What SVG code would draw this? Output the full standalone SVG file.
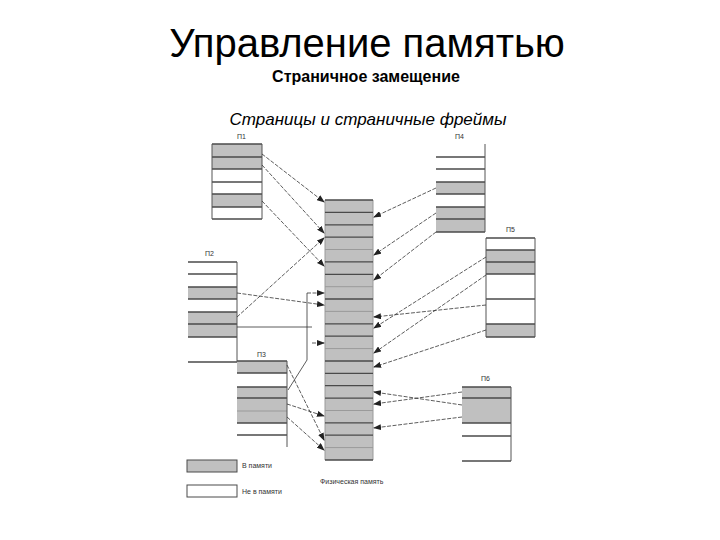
<svg xmlns="http://www.w3.org/2000/svg" width="720" height="540" viewBox="0 0 720 540">
<style>
text{font-family:"Liberation Sans",Arial,sans-serif;fill:#000}
.t1{font-size:40px}
.t2{font-size:16px;font-weight:bold}
.t3{font-size:17px;font-style:italic}
.lb{font-size:7px;fill:#333}
.g{fill:#c0c0c0}
.hl{stroke:#4a4a4a;stroke-width:1.3}
.ll{stroke:#9a9a9a;stroke-width:1}
.vb{stroke:#555;stroke-width:1}
.ar{stroke:#333;stroke-width:0.8;stroke-dasharray:4 1.5;fill:none;marker-end:url(#ah)}
.ln{stroke:#333;stroke-width:0.8;fill:none}
</style>
<defs>
<marker id="ah" markerWidth="8" markerHeight="6" refX="7" refY="3" orient="auto" markerUnits="userSpaceOnUse">
<path d="M0,0 L8,3 L0,6 Z" fill="#222"/>
</marker>
</defs>
<rect width="720" height="540" fill="#fff"/>
<text class="t1" x="367" y="57" text-anchor="middle">Управление памятью</text>
<text class="t2" x="366" y="82" text-anchor="middle">Страничное замещение</text>
<text class="t3" x="368" y="125" text-anchor="middle">Страницы и страничные фреймы</text>

<g id="phys">
<rect class="g" x="325" y="200" width="48" height="260"/>
<line class="ll" x1="325" y1="200" x2="325" y2="460"/>
<line class="ll" x1="373" y1="200" x2="373" y2="460"/>
<g class="hl">
<line x1="325" y1="200" x2="373" y2="200"/><line x1="325" y1="212.4" x2="373" y2="212.4"/>
<line x1="325" y1="224.8" x2="373" y2="224.8"/><line x1="325" y1="237.1" x2="373" y2="237.1"/>
<line x1="325" y1="261.9" x2="373" y2="261.9"/><line x1="325" y1="274.3" x2="373" y2="274.3"/>
<line x1="325" y1="299" x2="373" y2="299"/><line x1="325" y1="323.8" x2="373" y2="323.8"/>
<line x1="325" y1="336.2" x2="373" y2="336.2"/><line x1="325" y1="361" x2="373" y2="361"/>
<line x1="325" y1="373.3" x2="373" y2="373.3"/><line x1="325" y1="385.7" x2="373" y2="385.7"/>
<line x1="325" y1="398.1" x2="373" y2="398.1"/><line x1="325" y1="422.9" x2="373" y2="422.9"/>
<line x1="325" y1="435.2" x2="373" y2="435.2"/><line x1="325" y1="460" x2="373" y2="460"/>
</g>
<g class="ll">
<line x1="325" y1="249.5" x2="373" y2="249.5"/><line x1="325" y1="286.7" x2="373" y2="286.7"/>
<line x1="325" y1="311.4" x2="373" y2="311.4"/><line x1="325" y1="348.6" x2="373" y2="348.6"/>
<line x1="325" y1="410.5" x2="373" y2="410.5"/><line x1="325" y1="447.6" x2="373" y2="447.6"/>
</g>
<text class="lb" x="320" y="484">Физическая память</text>
</g>

<g id="p1">
<text class="lb" x="237" y="139">П1</text>
<rect class="g" x="212" y="144" width="50" height="25"/>
<rect class="g" x="212" y="194" width="50" height="13"/>
<g class="hl">
<line x1="212" y1="144" x2="262" y2="144"/><line x1="212" y1="157" x2="262" y2="157"/>
<line x1="212" y1="169" x2="262" y2="169"/><line x1="212" y1="182" x2="262" y2="182"/>
<line x1="212" y1="194" x2="262" y2="194"/><line x1="212" y1="207" x2="262" y2="207"/>
<line x1="212" y1="219" x2="262" y2="219"/>
</g>
<line class="vb" x1="212" y1="144" x2="212" y2="219"/>
<line class="vb" x1="262" y1="144" x2="262" y2="219"/>
</g>

<g id="p4">
<text class="lb" x="455" y="139">П4</text>
<rect class="g" x="436" y="182" width="49" height="12"/>
<rect class="g" x="436" y="207" width="49" height="25"/>
<g class="hl">
<line x1="436" y1="157" x2="485" y2="157"/><line x1="436" y1="169" x2="485" y2="169"/>
<line x1="436" y1="182" x2="485" y2="182"/><line x1="436" y1="194" x2="485" y2="194"/>
<line x1="436" y1="207" x2="485" y2="207"/><line x1="436" y1="219" x2="485" y2="219"/>
<line x1="436" y1="232" x2="485" y2="232"/>
</g>
<line class="vb" x1="485" y1="144" x2="485" y2="232"/>
</g>

<g id="p2">
<text class="lb" x="205" y="256">П2</text>
<rect class="g" x="188" y="287" width="49" height="12"/>
<rect class="g" x="188" y="312" width="49" height="25"/>
<g class="hl">
<line x1="188" y1="262" x2="237" y2="262"/><line x1="188" y1="274" x2="237" y2="274"/>
<line x1="188" y1="287" x2="237" y2="287"/><line x1="188" y1="299" x2="237" y2="299"/>
<line x1="188" y1="312" x2="237" y2="312"/><line x1="188" y1="324" x2="237" y2="324"/>
<line x1="188" y1="337" x2="237" y2="337"/><line x1="188" y1="362" x2="237" y2="362"/>
</g>
<line class="vb" x1="237" y1="262" x2="237" y2="362"/>
</g>

<g id="p3">
<text class="lb" x="257" y="357">П3</text>
<rect class="g" x="237" y="361" width="50" height="12"/>
<rect class="g" x="237" y="387" width="50" height="36"/>
<g class="hl">
<line x1="237" y1="361" x2="287" y2="361"/><line x1="237" y1="373" x2="287" y2="373"/>
<line x1="237" y1="387" x2="287" y2="387"/><line x1="237" y1="398" x2="287" y2="398"/>
<line x1="237" y1="423" x2="287" y2="423"/><line x1="237" y1="435" x2="287" y2="435"/>
</g>
<line class="ll" x1="237" y1="411" x2="287" y2="411"/>
<line class="vb" x1="287" y1="361" x2="287" y2="447"/>
</g>

<g id="p5">
<text class="lb" x="506" y="232">П5</text>
<rect class="g" x="486" y="250" width="49" height="24"/>
<rect class="g" x="486" y="324" width="49" height="13"/>
<g class="hl">
<line x1="486" y1="238" x2="535" y2="238"/><line x1="486" y1="250" x2="535" y2="250"/>
<line x1="486" y1="262" x2="535" y2="262"/><line x1="486" y1="274" x2="535" y2="274"/>
<line x1="486" y1="299" x2="535" y2="299"/><line x1="486" y1="324" x2="535" y2="324"/>
<line x1="486" y1="337" x2="535" y2="337"/>
</g>
<line class="vb" x1="486" y1="238" x2="486" y2="337"/>
<line class="vb" x1="535" y1="238" x2="535" y2="337"/>
</g>

<g id="p6">
<text class="lb" x="481" y="381">П6</text>
<rect class="g" x="462" y="387" width="49" height="36"/>
<g class="hl">
<line x1="462" y1="387" x2="511" y2="387"/><line x1="462" y1="398" x2="511" y2="398"/>
<line x1="462" y1="423" x2="511" y2="423"/><line x1="462" y1="436" x2="511" y2="436"/>
<line x1="462" y1="461" x2="511" y2="461"/>
</g>
<line class="vb" x1="511" y1="387" x2="511" y2="461"/>
</g>

<g id="legend">
<rect class="g" x="187" y="460" width="50" height="12" stroke="#4a4a4a" stroke-width="1"/>
<text class="lb" x="242" y="468">В памяти</text>
<rect x="187" y="485" width="50" height="12" fill="#fff" stroke="#4a4a4a" stroke-width="1"/>
<text class="lb" x="242" y="494">Не в памяти</text>
</g>

<g id="connectors">
<path class="ar" d="M262,154 L324,202"/>
<path class="ar" d="M262,165 L324,233"/>
<path class="ar" d="M262,201 L324,266"/>
<path class="ar" d="M237,317 L324,238"/>
<path class="ar" d="M237,293 L324,305"/>
<path class="ln" d="M237,327 L312,327"/>
<path class="ar" d="M312,343 L324,343"/>
<path class="ln" d="M288,390 L307,360 L307,293" stroke="#888" stroke-width="1.2"/>
<path class="ar" d="M307,293 L324,293"/>
<path class="ar" d="M287,365 L324,440"/>
<path class="ar" d="M287,404 L324,416"/>
<path class="ar" d="M287,417 L324,450"/>
<path class="ar" d="M436,188 L374,217"/>
<path class="ar" d="M436,213 L374,255"/>
<path class="ar" d="M436,232 L374,280"/>
<path class="ar" d="M486,257 L374,328"/>
<path class="ar" d="M486,305 L374,317"/>
<path class="ar" d="M486,275 L374,353"/>
<path class="ar" d="M486,330 L374,367"/>
<path class="ar" d="M462,405 L374,392"/>
<path class="ar" d="M462,392 L374,404"/>
<path class="ar" d="M462,417 L374,428"/>
</g>
</svg>
